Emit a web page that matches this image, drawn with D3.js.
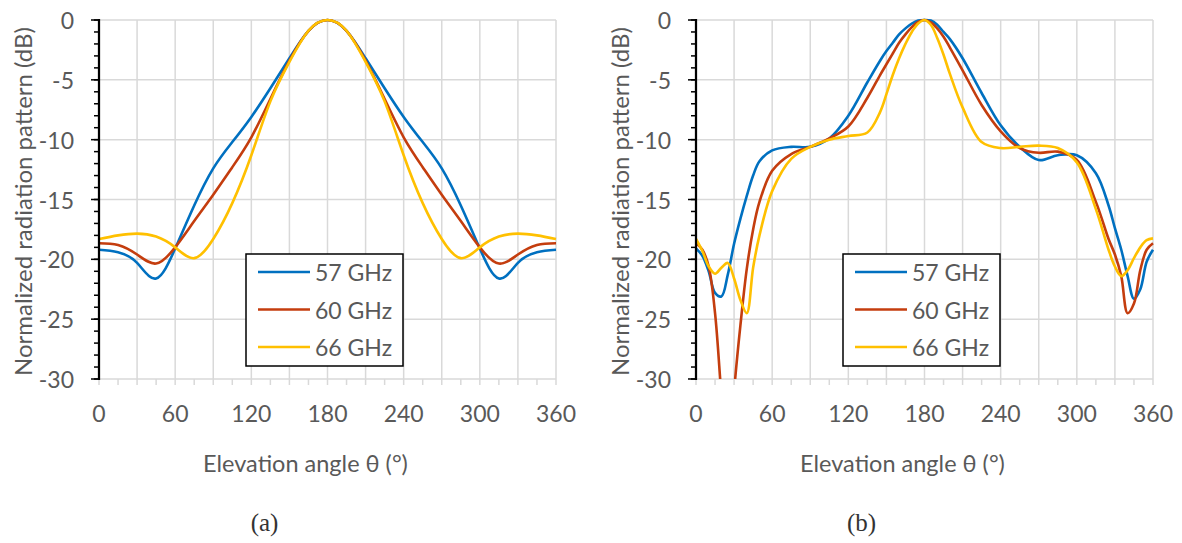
<!doctype html>
<html>
<head>
<meta charset="utf-8">
<script src="https://d3js.org/d3.v7.min.js"></script>
<style>
  body { margin: 0; background: #fff; }
  text { font-family: Lato, "Open Sans", sans-serif; fill: #595959; }
</style>
</head>
<body>
<svg id="svg1" width="1182" height="543"></svg>
<script>
// ---- data ----
const seriesNames = ["57 GHz", "60 GHz", "66 GHz"];
const seriesColors = ["#0070C0", "#C43D0E", "#FFC000"];

const anglesA = [0, 15, 30, 45, 60, 75, 90, 105, 120, 135, 150, 165, 180,
                 195, 210, 225, 240, 255, 270, 285, 300, 315, 330, 345, 360];
const a57 = [-19.2, -19.4, -20.3, -21.6, -19.1, -15.5, -12.4, -10.2, -8.1, -5.7, -3.2, -0.9, 0,
             -0.9, -3.2, -5.7, -8.1, -10.2, -12.4, -15.5, -19.1, -21.6, -20.3, -19.4, -19.2];
const a60 = [-18.65, -18.8, -19.6, -20.35, -19.0, -16.8, -14.6, -12.3, -9.8, -6.6, -3.4, -0.9, 0,
             -0.9, -3.4, -6.6, -9.8, -12.3, -14.6, -16.8, -19.0, -20.35, -19.6, -18.8, -18.65];
const a66 = [-18.3, -18.0, -17.85, -18.1, -19.0, -19.9, -18.3, -15.3, -11.3, -6.8, -3.5, -0.9, 0,
             -0.9, -3.5, -6.8, -11.3, -15.3, -18.3, -19.9, -19.0, -18.1, -17.85, -18.0, -18.3];

const anglesB = [0, 5, 10, 15, 20, 25, 30, 35, 40, 45, 50, 60, 75, 90, 105, 120, 135, 145, 150,
                 155, 160, 165, 170, 175, 180, 185, 190, 195, 200, 210, 225, 240, 255, 270, 285,
                 300, 315, 325, 330, 335, 340, 345, 350, 355, 360];
const b57 = [-19.1, -19.7, -21.0, -22.8, -23.1, -21.3, -18.7, -16.6, -14.7, -13.0, -11.8, -10.9,
             -10.6, -10.6, -9.9, -8.0, -5.2, -3.4, -2.6, -1.9, -1.2, -0.7, -0.3, -0.05, 0,
             -0.05, -0.4, -1.0, -1.6, -3.2, -6.1, -8.8, -10.6, -11.7, -11.3, -11.3, -12.8,
             -15.5, -17.4, -19.2, -21.4, -23.3, -22.5, -20.2, -19.2];
const b60 = [-18.65, -19.2, -20.6, -24.5, -31.4, -38, -31.0, -25.5, -20.8, -17.5, -15.2, -12.6,
             -11.2, -10.6, -9.9, -8.9, -6.5, -4.6, -3.7, -2.8, -1.9, -1.2, -0.6, -0.15, 0,
             -0.2, -0.7, -1.4, -2.3, -4.2, -7.1, -9.3, -10.7, -11.1, -11.0, -11.7, -15.2,
             -18.3, -19.6, -21.4, -24.5, -23.7, -20.9, -19.2, -18.66];
const b66 = [-18.3, -19.3, -20.6, -21.2, -20.7, -20.3, -21.6, -23.4, -24.5, -20.7, -18.0, -14.3,
             -11.6, -10.6, -10.0, -9.7, -9.4, -7.7, -6.2, -4.6, -3.2, -2.0, -1.0, -0.3, 0,
             -0.4, -1.5, -2.9, -4.5, -7.3, -10.2, -10.7, -10.6, -10.5, -10.7, -11.9, -15.8,
             -19.2, -20.6, -21.4, -20.9, -19.9, -19.0, -18.4, -18.25];

const xTicks = [0, 60, 120, 180, 240, 300, 360];
const yTicks = [0, -5, -10, -15, -20, -25, -30];
const panelLabels = ["(a)", "(b)"];
const xTitle = "Elevation angle \u03b8 (\u00b0)";
const yTitle = "Normalized radiation pattern (dB)";

// ---- layout ----
const svg = d3.select("#svg1");
svg.append("rect").attr("width", 1182).attr("height", 543).attr("fill", "#fff");

const panels = [
  { left: 99, angles: anglesA, series: [a57, a60, a66], label: panelLabels[0], curve: d3.curveNatural },
  { left: 696, angles: anglesB, series: [b57, b60, b66], label: panelLabels[1], curve: d3.curveCatmullRom.alpha(0.5) }
];
const plotW = 457, plotTop = 20, plotBottom = 379;

panels.forEach((p, pi) => {
  const x = d3.scaleLinear().domain([0, 360]).range([p.left, p.left + plotW]);
  const y = d3.scaleLinear().domain([-30, 0]).range([plotBottom, plotTop]);
  const g = svg.append("g");

  // grid
  g.selectAll(".vg").data(d3.range(30, 361, 30)).join("line")
    .attr("x1", d => x(d)).attr("x2", d => x(d))
    .attr("y1", plotTop).attr("y2", plotBottom)
    .attr("stroke", "#d9d9d9").attr("stroke-width", 1.5);
  g.selectAll(".hg").data(yTicks).join("line")
    .attr("x1", p.left).attr("x2", p.left + plotW)
    .attr("y1", d => y(d)).attr("y2", d => y(d))
    .attr("stroke", "#d9d9d9").attr("stroke-width", 1.5);

  // x axis ticks (gray, every 15)
  g.selectAll(".xt").data(d3.range(0, 361, 15)).join("line")
    .attr("x1", d => x(d)).attr("x2", d => x(d))
    .attr("y1", plotBottom).attr("y2", plotBottom + 6)
    .attr("stroke", "#d9d9d9").attr("stroke-width", 1.5);

  g.selectAll(".xl").data(xTicks).join("text")
    .attr("x", d => x(d)).attr("y", 413)
    .attr("text-anchor", "middle").attr("dominant-baseline", "central")
    .attr("font-size", 23).text(d => d);

  // curves, clipped to plot area
  const clipId = "clip" + pi;
  svg.append("clipPath").attr("id", clipId).append("rect")
    .attr("x", p.left).attr("y", plotTop - 3).attr("width", plotW + 3).attr("height", plotBottom - plotTop + 3);
  const line = d3.line().curve(p.curve)
    .x(d => x(d[0])).y(d => y(d[1]));
  const cg = g.append("g").attr("clip-path", "url(#" + clipId + ")");
  p.series.forEach((s, i) => {
    cg.append("path")
      .attr("d", line(p.angles.map((a, k) => [a, s[k]])))
      .attr("fill", "none").attr("stroke", seriesColors[i])
      .attr("stroke-width", 2.6).attr("stroke-linejoin", "round");
  });

  // y axis (black)
  g.selectAll(".ymin").data(d3.range(0, -31, -1)).join("line")
    .attr("x1", p.left - 5).attr("x2", p.left)
    .attr("y1", d => y(d)).attr("y2", d => y(d))
    .attr("stroke", "#000").attr("stroke-width", 1.5);
  g.selectAll(".ymaj").data(yTicks).join("line")
    .attr("x1", p.left - 8).attr("x2", p.left)
    .attr("y1", d => y(d)).attr("y2", d => y(d))
    .attr("stroke", "#000").attr("stroke-width", 1.5);
  g.append("line").attr("x1", p.left).attr("x2", p.left)
    .attr("y1", plotTop - 1).attr("y2", plotBottom + 1)
    .attr("stroke", "#000").attr("stroke-width", 2.25);
  g.selectAll(".yl").data(yTicks).join("text")
    .attr("x", p.left - 25).attr("y", d => y(d))
    .attr("text-anchor", "end").attr("dominant-baseline", "central")
    .attr("font-size", 23).text(d => d);

  // axis titles
  g.append("text")
    .attr("transform", `translate(${p.left - 77},${(plotTop + plotBottom) / 2 + 2}) rotate(-90)`)
    .attr("text-anchor", "middle").attr("dominant-baseline", "central")
    .attr("font-size", 24).text(yTitle);
  g.append("text")
    .attr("x", p.left + plotW / 2 - 22).attr("y", 463)
    .attr("text-anchor", "middle").attr("dominant-baseline", "central")
    .attr("font-size", 23.5).text(xTitle);

  // legend
  const lx = p.left + 147, ly = 254;
  g.append("rect").attr("x", lx).attr("y", ly).attr("width", 157).attr("height", 112)
    .attr("fill", "#fff").attr("stroke", "#000").attr("stroke-width", 1.5);
  seriesNames.forEach((n, i) => {
    const yy = 272 + i * 37.5;
    g.append("line").attr("x1", lx + 12).attr("x2", lx + 64)
      .attr("y1", yy).attr("y2", yy)
      .attr("stroke", seriesColors[i]).attr("stroke-width", 2.6);
    g.append("text").attr("x", lx + 69).attr("y", yy)
      .attr("dominant-baseline", "central").attr("font-size", 23).text(n);
  });

  // panel label
  g.append("text")
    .attr("x", p.left + plotW / 2 - 63).attr("y", 522)
    .attr("text-anchor", "middle").attr("dominant-baseline", "central")
    .style("font-family", "'Liberation Serif', serif").style("fill", "#333")
    .attr("font-size", 25).text(p.label);
});
</script>
</body>
</html>
